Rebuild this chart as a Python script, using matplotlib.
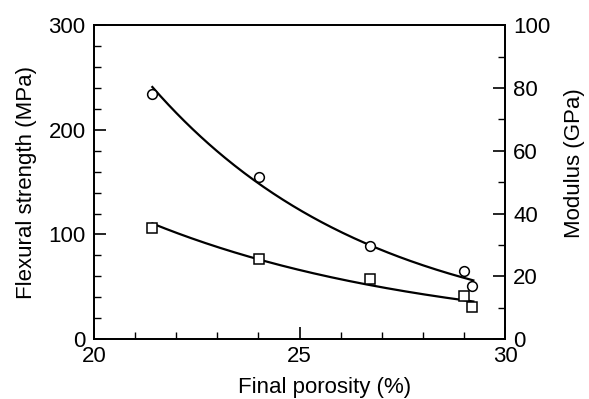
import numpy as np
import matplotlib
matplotlib.use("Agg")
import matplotlib.pyplot as plt
from matplotlib.ticker import MultipleLocator

plt.rcParams["font.family"] = ["Liberation Sans", "DejaVu Sans"]

# ── Data ─────────────────────────────────────────────────────────────────────
porosity_strength = [21.42, 24.02, 26.71, 29.0, 29.2]
strength_mpa      = [234, 155, 89, 65, 50.6]

porosity_modulus  = [21.42, 24.02, 26.71, 29.0, 29.2]
modulus_gpa       = [35.4, 25.5, 19.1, 13.8, 10.1]

FIT_RANGE = (21.42, 29.23)
FS = 16


def exp_fit(x, y):
    # least squares fit of y = a*exp(b*x) in log space
    b, ln_a = np.polyfit(np.asarray(x), np.log(np.asarray(y)), 1)
    xs = np.linspace(*FIT_RANGE, 200)
    return xs, np.exp(ln_a + b * xs)


fig = plt.figure(figsize=(5.89, 3.99), dpi=100)
ax = fig.add_axes([0.1596, 0.150, 0.6978, 0.787])
ax2 = ax.twinx()

xs, ys = exp_fit(porosity_strength, strength_mpa)
ax.plot(xs, ys, color="black", lw=1.6)
ax.plot(porosity_strength, strength_mpa, "o", ms=7, mfc="white",
        mec="black", mew=1.1, zorder=3)

xm, ym = exp_fit(porosity_modulus, modulus_gpa)
ax2.plot(xm, ym, color="black", lw=1.6)
ax2.plot(porosity_modulus, modulus_gpa, "s", ms=7, mfc="white",
         mec="black", mew=1.1, zorder=3)

ax.set_xlim(20, 30)
ax.set_ylim(0, 300)
ax2.set_ylim(0, 100)

ax.xaxis.set_major_locator(MultipleLocator(5))
ax.xaxis.set_minor_locator(MultipleLocator(1))
ax.yaxis.set_major_locator(MultipleLocator(100))
ax.yaxis.set_minor_locator(MultipleLocator(20))
ax2.yaxis.set_major_locator(MultipleLocator(20))
ax2.yaxis.set_minor_locator(MultipleLocator(10))

for a in (ax, ax2):
    a.tick_params(which="major", direction="in", length=8.5, width=1.2,
                  labelsize=FS, pad=6)
    a.tick_params(which="minor", direction="in", length=5, width=1.0)
    for s in a.spines.values():
        s.set_linewidth(1.3)
ax.tick_params(axis="x", which="both", top=False)
ax.tick_params(axis="x", which="major", pad=5)

ax.set_xlabel("Final porosity (%)", fontsize=FS, labelpad=7)
ax.xaxis.label.set_x(0.56)
ax.set_ylabel("Flexural strength (MPa)", fontsize=FS, labelpad=8)
ax2.set_ylabel("Modulus (GPa)", fontsize=FS, labelpad=10)
ax2.yaxis.label.set_y(0.56)

fig.savefig("out.png", dpi=100)
